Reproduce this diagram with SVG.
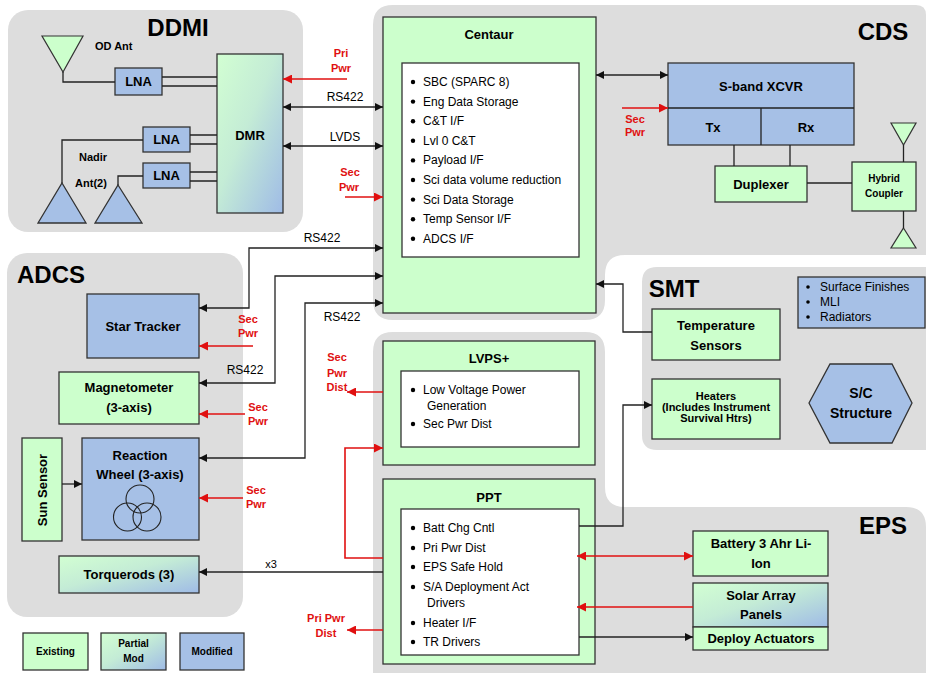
<svg xmlns="http://www.w3.org/2000/svg" width="926" height="673" viewBox="0 0 926 673">
<style>
text{font-family:"Liberation Sans",Arial,sans-serif;fill:#000}
.t{font-size:24px;font-weight:bold}
.b{font-size:13px;font-weight:bold;text-anchor:middle}
.s{font-size:11px;font-weight:bold;text-anchor:middle}
.st{font-size:11px;font-weight:bold}
.l{font-size:12px}
.c{font-size:12px;text-anchor:middle}
.r{font-size:11px;font-weight:bold;text-anchor:middle;fill:#e01010}
.g{fill:#ccffcc;stroke:#333;stroke-width:1.3}
.bl{fill:#a6c0e6;stroke:#333;stroke-width:1.3}
.pm{fill:url(#pg);stroke:#333;stroke-width:1.3}
.w{fill:#fff;stroke:#333;stroke-width:1.3}
.bg{fill:#dddddd}
.k{fill:none;stroke:#222;stroke-width:1.3}
.kr{fill:none;stroke:#e01010;stroke-width:1.6}
.dot{fill:#000}
</style>
<defs>
<linearGradient id="pg" x1="0" y1="0" x2="1" y2="1">
<stop offset="0" stop-color="#d2ffd2"/>
<stop offset="0.45" stop-color="#c4ecd6"/>
<stop offset="1" stop-color="#9fbbe6"/>
</linearGradient>
<marker id="ak" viewBox="0 0 10 10" refX="10" refY="5" markerWidth="10" markerHeight="8" markerUnits="userSpaceOnUse" orient="auto-start-reverse"><path d="M0,0 L10,5 L0,10 z" fill="#111"/></marker>
<marker id="ar" viewBox="0 0 10 10" refX="10" refY="5" markerWidth="13" markerHeight="9" markerUnits="userSpaceOnUse" orient="auto-start-reverse"><path d="M0,0 L10,5 L0,10 z" fill="#e01010"/></marker>
</defs>

<g id="regions">
<rect class="bg" x="8" y="10" width="295" height="222" rx="20"/>
<rect class="bg" x="7" y="253" width="236" height="364" rx="20"/>
<path class="bg" d="M393,5 H916 Q926,5 926,15 V255 H625 Q605,255 605,275 V300 Q605,320 585,320 H393 Q373,320 373,300 V25 Q373,5 393,5 Z"/>
<path class="bg" d="M393,332 H585 Q605,332 605,352 V487 Q605,507 625,507 H906 Q926,507 926,527 V673 H373 V352 Q373,332 393,332 Z"/>
<path class="bg" d="M657,267 H926 V450 H657 Q642,450 642,435 V282 Q642,267 657,267 Z"/>
<text class="t" x="178" y="36" text-anchor="middle">DDMI</text>
<text class="t" x="883" y="40" text-anchor="middle">CDS</text>
<text class="t" x="17" y="283">ADCS</text>
<text class="t" x="674" y="297" text-anchor="middle">SMT</text>
<text class="t" x="883" y="534" text-anchor="middle">EPS</text>
</g>

<g id="od-ant"><path d="M42,36 H83 L63,72 Z" fill="#ccffcc" stroke="#333" stroke-width="1.2"/><text class="st" x="95" y="50">OD Ant</text></g>
<g id="nadir-ant">
<path d="M62,183 L86,223 H38 Z" class="bl"/>
<path d="M118,185 L142,223 H95 Z" class="bl"/>
<text class="s" x="93" y="161">Nadir</text>
<text class="s" x="91" y="187">Ant(2)</text>
</g>
<g id="lna1"><rect class="bl" x="115" y="68" width="47" height="27"/><text class="b" x="138.5" y="86">LNA</text></g>
<g id="lna2"><rect class="bl" x="143" y="127" width="47" height="25"/><text class="b" x="166.5" y="144">LNA</text></g>
<g id="lna3"><rect class="bl" x="143" y="163" width="47" height="25"/><text class="b" x="166.5" y="180">LNA</text></g>
<g id="dmr"><rect class="pm" x="217" y="54" width="66" height="159"/><text class="b" x="250" y="139.5">DMR</text></g>

<g id="centaur">
<rect class="g" x="383" y="17" width="213" height="296"/>
<text class="b" x="489" y="38.5">Centaur</text>
<rect class="w" x="402" y="63" width="177" height="194"/>
<circle class="dot" cx="413" cy="82" r="2.2"/><text class="l" x="423" y="86">SBC (SPARC 8)</text>
<circle class="dot" cx="413" cy="101.6" r="2.2"/><text class="l" x="423" y="105.6">Eng Data Storage</text>
<circle class="dot" cx="413" cy="121.2" r="2.2"/><text class="l" x="423" y="125.2">C&amp;T I/F</text>
<circle class="dot" cx="413" cy="140.8" r="2.2"/><text class="l" x="423" y="144.8">Lvl 0 C&amp;T</text>
<circle class="dot" cx="413" cy="160.4" r="2.2"/><text class="l" x="423" y="164.4">Payload I/F</text>
<circle class="dot" cx="413" cy="180" r="2.2"/><text class="l" x="423" y="184">Sci data volume reduction</text>
<circle class="dot" cx="413" cy="199.6" r="2.2"/><text class="l" x="423" y="203.6">Sci Data Storage</text>
<circle class="dot" cx="413" cy="219.2" r="2.2"/><text class="l" x="423" y="223.2">Temp Sensor I/F</text>
<circle class="dot" cx="413" cy="238.8" r="2.2"/><text class="l" x="423" y="242.8">ADCS I/F</text>
</g>

<g id="sband">
<rect class="bl" x="668" y="63" width="186" height="82"/>
<path class="k" d="M668,108 H854 M761,108 V145"/>
<text class="b" x="761" y="90.5">S-band XCVR</text>
<text class="b" x="713" y="131.5">Tx</text>
<text class="b" x="806" y="131.5">Rx</text>
</g>
<g id="duplexer"><rect class="g" x="715" y="166" width="92" height="36"/><text class="b" x="761" y="188.5">Duplexer</text></g>
<g id="hybrid"><rect class="g" x="852" y="162" width="64" height="49"/><text class="s" x="884" y="181.5" style="font-size:10px">Hybrid</text><text class="s" x="884" y="196.5" style="font-size:10px">Coupler</text></g>
<g id="cds-ant">
<path d="M891,123 H916 L903.5,145 Z" fill="#ccffcc" stroke="#333" stroke-width="1.2"/>
<path d="M903.5,228 L916,248 H891 Z" fill="#ccffcc" stroke="#333" stroke-width="1.2"/>
</g>

<g id="star-tracker"><rect class="bl" x="87" y="294" width="112" height="64"/><text class="b" x="143" y="330.5">Star Tracker</text></g>
<g id="magnetometer"><rect class="g" x="59" y="372" width="140" height="52"/><text class="b" x="129" y="391.5">Magnetometer</text><text class="b" x="129" y="411.5">(3-axis)</text></g>
<g id="sun-sensor"><rect class="g" x="22" y="438" width="40" height="103"/><text class="b" x="42" y="494.5" transform="rotate(-90 42 490)">Sun Sensor</text></g>
<g id="reaction-wheel">
<rect class="bl" x="82" y="438" width="117" height="102"/>
<text class="b" x="140" y="459.5">Reaction</text>
<text class="b" x="140" y="478.5">Wheel (3-axis)</text>
<circle cx="140" cy="499" r="14" fill="none" stroke="#222" stroke-width="1.1"/>
<circle cx="127.5" cy="517" r="14" fill="none" stroke="#222" stroke-width="1.1"/>
<circle cx="147" cy="517" r="14" fill="none" stroke="#222" stroke-width="1.1"/>
</g>
<g id="torquerods"><rect class="pm" x="59" y="556" width="140" height="37"/><text class="b" x="129" y="579">Torquerods (3)</text></g>

<g id="legend">
<rect class="g" x="23" y="633" width="65" height="37"/><text class="s" x="55.5" y="655" style="font-size:10px">Existing</text>
<rect class="pm" x="101" y="633" width="65" height="37"/><text class="s" x="133.5" y="646.5" style="font-size:10px">Partial</text><text class="s" x="133.5" y="661.5" style="font-size:10px">Mod</text>
<rect class="bl" x="180" y="633" width="64" height="37"/><text class="s" x="212" y="655" style="font-size:10px">Modified</text>
</g>

<g id="lvps">
<rect class="g" x="383" y="341" width="212" height="124"/>
<text class="b" x="489" y="362.5">LVPS+</text>
<rect class="w" x="401" y="371" width="178" height="76"/>
<circle class="dot" cx="413" cy="390" r="2.2"/><text class="l" x="423" y="394">Low Voltage Power</text>
<text class="l" x="427" y="410">Generation</text>
<circle class="dot" cx="413" cy="424" r="2.2"/><text class="l" x="423" y="428">Sec Pwr Dist</text>
</g>

<g id="ppt">
<rect class="g" x="383" y="479" width="212" height="185"/>
<text class="b" x="489" y="501.5">PPT</text>
<rect class="w" x="401" y="509" width="178" height="146"/>
<circle class="dot" cx="413" cy="528" r="2.2"/><text class="l" x="423" y="532">Batt Chg Cntl</text>
<circle class="dot" cx="413" cy="548" r="2.2"/><text class="l" x="423" y="552">Pri Pwr Dist</text>
<circle class="dot" cx="413" cy="567" r="2.2"/><text class="l" x="423" y="571">EPS Safe Hold</text>
<circle class="dot" cx="413" cy="587" r="2.2"/><text class="l" x="423" y="591">S/A Deployment Act</text>
<text class="l" x="427" y="607">Drivers</text>
<circle class="dot" cx="413" cy="623" r="2.2"/><text class="l" x="423" y="627">Heater I/F</text>
<circle class="dot" cx="413" cy="642" r="2.2"/><text class="l" x="423" y="646">TR Drivers</text>
</g>

<g id="temp-sensors"><rect class="g" x="652" y="309" width="128" height="51"/><text class="b" x="716" y="329.5">Temperature</text><text class="b" x="716" y="349.5">Sensors</text></g>
<g id="heaters"><rect class="g" x="652" y="379" width="128" height="60"/>
<text class="s" x="716" y="400">Heaters</text><text class="s" x="716" y="411">(Includes Instrument</text><text class="s" x="716" y="422">Survival Htrs)</text></g>
<g id="smt-list"><rect class="bl" x="798" y="277" width="127" height="51"/>
<circle class="dot" cx="808" cy="287" r="1.8"/><text class="l" x="820" y="291">Surface Finishes</text>
<circle class="dot" cx="808" cy="302" r="1.8"/><text class="l" x="820" y="306">MLI</text>
<circle class="dot" cx="808" cy="317" r="1.8"/><text class="l" x="820" y="321">Radiators</text>
</g>
<g id="sc-structure"><path class="bl" d="M809,403 L830,364 H892 L912,403 L892,443 H830 Z"/><text class="b" x="861" y="398" style="font-size:14px">S/C</text><text class="b" x="861" y="418" style="font-size:14px">Structure</text></g>

<g id="battery"><rect class="g" x="693" y="531" width="135" height="45"/><text class="b" x="761" y="547.5">Battery 3 Ahr Li-</text><text class="b" x="761" y="567.5">Ion</text></g>
<g id="solar-array"><rect class="pm" x="693" y="583" width="135" height="44"/><text class="b" x="761" y="599.5">Solar Array</text><text class="b" x="761" y="618.5">Panels</text>
<rect class="g" x="693" y="627" width="135" height="23"/><text class="b" x="761" y="642.5">Deploy Actuators</text></g>

<g id="connectors">
<path class="k" d="M63,72 V82 H115"/>
<path class="k" d="M162,77 H217 M162,86 H217"/>
<path class="k" d="M190,135 H217 M190,144 H217"/>
<path class="k" d="M190,172 H217 M190,181 H217"/>
<path class="k" d="M143,140 H62 V183"/>
<path class="k" d="M143,176 H118 V185"/>
<path class="kr" d="M347,79 H283" marker-end="url(#ar)"/>
<path class="k" d="M283,107 H383" marker-start="url(#ak)" marker-end="url(#ak)"/>
<path class="k" d="M283,146 H383" marker-start="url(#ak)" marker-end="url(#ak)"/>
<path class="kr" d="M345,197 H383" marker-end="url(#ar)"/>
<path class="k" d="M383,248 H249 V308 H199" marker-start="url(#ak)" marker-end="url(#ak)"/>
<path class="k" d="M383,276 H275 V383 H199" marker-start="url(#ak)" marker-end="url(#ak)"/>
<path class="k" d="M383,303 H305 V458 H199" marker-start="url(#ak)" marker-end="url(#ak)"/>
<path class="kr" d="M253,346 H199" marker-end="url(#ar)"/>
<path class="kr" d="M245,414 H199" marker-end="url(#ar)"/>
<path class="kr" d="M243,498 H199" marker-end="url(#ar)"/>
<path class="k" d="M62,484 H82" marker-end="url(#ak)"/>
<path class="k" d="M383,572 H199" marker-end="url(#ak)"/>
<path class="kr" d="M383,392 H347" marker-end="url(#ar)"/>
<path class="kr" d="M383,558 H345 V448 H383" marker-end="url(#ar)"/>
<path class="kr" d="M383,630 H347" marker-end="url(#ar)"/>
<path class="k" d="M596,75 H668" marker-start="url(#ak)" marker-end="url(#ak)"/>
<path class="kr" d="M622,108 H668" marker-end="url(#ar)"/>
<path class="k" d="M734,145 V166 M790,145 V166"/>
<path class="k" d="M807,183 H852"/>
<path class="k" d="M903.5,145 V162 M903.5,211 V228"/>
<path class="k" d="M652,332 H623 V284 H596" marker-end="url(#ak)"/>
<path class="k" d="M579,526 H623 V405 H652" marker-end="url(#ak)"/>
<path class="kr" d="M577,556 H693" marker-start="url(#ar)" marker-end="url(#ar)"/>
<path class="kr" d="M693,607 H577" marker-end="url(#ar)"/>
<path class="k" d="M579,637 H693" marker-end="url(#ak)"/>
<text class="c" x="345" y="101">RS422</text>
<text class="c" x="345" y="141">LVDS</text>
<text class="c" x="322" y="242">RS422</text>
<text class="c" x="245" y="374">RS422</text>
<text class="c" x="342" y="321">RS422</text>
<text class="c" x="271" y="568" style="font-size:11px">x3</text>
<text class="r" x="341" y="57">Pri</text><text class="r" x="341" y="72">Pwr</text>
<text class="r" x="350" y="176">Sec</text><text class="r" x="349" y="191">Pwr</text>
<text class="r" x="248" y="323">Sec</text><text class="r" x="248" y="337">Pwr</text>
<text class="r" x="258" y="411">Sec</text><text class="r" x="258" y="425">Pwr</text>
<text class="r" x="256" y="494">Sec</text><text class="r" x="256" y="508">Pwr</text>
<text class="r" x="337" y="361">Sec</text><text class="r" x="337" y="377">Pwr</text><text class="r" x="337" y="391">Dist</text>
<text class="r" x="326" y="622">Pri Pwr</text><text class="r" x="326" y="637">Dist</text>
<text class="r" x="635" y="123">Sec</text><text class="r" x="635" y="136">Pwr</text>
</g>
</svg>
